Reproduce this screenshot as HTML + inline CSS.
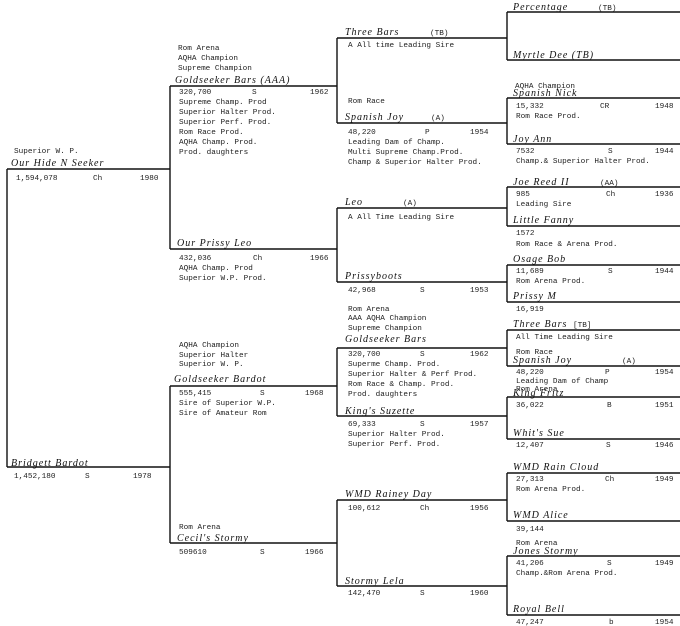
<!DOCTYPE html>
<html><head><meta charset="utf-8"><style>
html,body{margin:0;padding:0;background:#fff;width:680px;height:626px;overflow:hidden}
svg{display:block}
text{font-family:"Liberation Mono",monospace;font-size:7.7px;fill:#222}
.n{font-family:"Liberation Serif",serif;font-style:italic;font-size:10px;letter-spacing:1px;fill:#111}
line{stroke:#111;stroke-width:1.4}
</style></head><body>
<svg width="680" height="626" viewBox="0 0 680 626">
<!-- gen1 -->
<line x1="7" y1="169" x2="170" y2="169"/><line x1="7" y1="467" x2="170" y2="467"/>
<line x1="7" y1="169" x2="7" y2="467"/>
<!-- gen2 -->
<line x1="170" y1="86" x2="170" y2="249"/><line x1="170" y1="86" x2="337" y2="86"/><line x1="170" y1="249" x2="337" y2="249"/>
<line x1="170" y1="386" x2="170" y2="543"/><line x1="170" y1="386" x2="337" y2="386"/><line x1="170" y1="543" x2="337" y2="543"/>
<!-- gen3 -->
<line x1="337" y1="38" x2="337" y2="123"/><line x1="337" y1="38" x2="507" y2="38"/><line x1="337" y1="123" x2="507" y2="123"/>
<line x1="337" y1="208" x2="337" y2="282"/><line x1="337" y1="208" x2="507" y2="208"/><line x1="337" y1="282" x2="507" y2="282"/>
<line x1="337" y1="348" x2="337" y2="416"/><line x1="337" y1="348" x2="507" y2="348"/><line x1="337" y1="416" x2="507" y2="416"/>
<line x1="337" y1="500" x2="337" y2="586"/><line x1="337" y1="500" x2="507" y2="500"/><line x1="337" y1="586" x2="507" y2="586"/>
<!-- gen4 -->
<line x1="507" y1="12" x2="507" y2="60"/><line x1="507" y1="12" x2="680" y2="12"/><line x1="507" y1="60" x2="680" y2="60"/>
<line x1="507" y1="98" x2="507" y2="144"/><line x1="507" y1="98" x2="680" y2="98"/><line x1="507" y1="144" x2="680" y2="144"/>
<line x1="507" y1="187" x2="507" y2="226"/><line x1="507" y1="187" x2="680" y2="187"/><line x1="507" y1="226" x2="680" y2="226"/>
<line x1="507" y1="265" x2="507" y2="302"/><line x1="507" y1="265" x2="680" y2="265"/><line x1="507" y1="302" x2="680" y2="302"/>
<line x1="507" y1="330" x2="507" y2="366"/><line x1="507" y1="330" x2="680" y2="330"/><line x1="507" y1="366" x2="680" y2="366"/>
<line x1="507" y1="397" x2="507" y2="439"/><line x1="507" y1="397" x2="680" y2="397"/><line x1="507" y1="439" x2="680" y2="439"/>
<line x1="507" y1="473" x2="507" y2="521"/><line x1="507" y1="473" x2="680" y2="473"/><line x1="507" y1="521" x2="680" y2="521"/>
<line x1="507" y1="556" x2="507" y2="615"/><line x1="507" y1="556" x2="680" y2="556"/><line x1="507" y1="615" x2="680" y2="615"/>

<!-- gen1 text -->
<text x="14" y="153">Superior W. P.</text>
<text class="n" x="11" y="166">Our Hide N Seeker</text>
<text x="16" y="180">1,594,078</text><text x="93" y="180">Ch</text><text x="140" y="180">1980</text>
<text class="n" x="11" y="466">Bridgett Bardot</text>
<text x="14" y="478">1,452,180</text><text x="85" y="478">S</text><text x="133" y="478">1978</text>

<!-- gen2 text -->
<text x="178" y="50">Rom Arena</text><text x="178" y="60">AQHA Champion</text><text x="178" y="70">Supreme Champion</text>
<text class="n" x="175" y="83">Goldseeker Bars  (AAA)</text>
<text x="179" y="94">320,700</text><text x="252" y="94">S</text><text x="310" y="94">1962</text>
<text x="179" y="104">Supreme Champ. Prod</text><text x="179" y="114">Superior Halter Prod.</text>
<text x="179" y="124">Superior Perf. Prod.</text><text x="179" y="134">Rom Race Prod.</text>
<text x="179" y="144">AQHA Champ. Prod.</text><text x="179" y="154">Prod. daughters</text>
<text class="n" x="177" y="246">Our Prissy Leo</text>
<text x="179" y="260">432,036</text><text x="253" y="260">Ch</text><text x="310" y="260">1966</text>
<text x="179" y="270">AQHA Champ. Prod</text><text x="179" y="280">Superior W.P. Prod.</text>

<text x="179" y="347">AQHA Champion</text><text x="179" y="357">Superior Halter</text><text x="179" y="366">Superior W. P.</text>
<text class="n" x="174" y="382">Goldseeker Bardot</text>
<text x="179" y="395">555,415</text><text x="260" y="395">S</text><text x="305" y="395">1968</text>
<text x="179" y="405">Sire of Superior W.P.</text><text x="179" y="415">Sire of Amateur Rom</text>
<text x="179" y="529">Rom Arena</text>
<text class="n" x="177" y="541">Cecil's Stormy</text>
<text x="179" y="554">509610</text><text x="260" y="554">S</text><text x="305" y="554">1966</text>

<!-- gen3 text -->
<text class="n" x="345" y="35">Three Bars</text><text x="430" y="35">(TB)</text>
<text x="348" y="47">A All time Leading Sire</text>
<text x="348" y="103">Rom Race</text>
<text class="n" x="345" y="120">Spanish Joy</text><text x="431" y="120">(A)</text>
<text x="348" y="134">48,220</text><text x="425" y="134">P</text><text x="470" y="134">1954</text>
<text x="348" y="144">Leading Dam of Champ.</text><text x="348" y="154">Multi Supreme Champ.Prod.</text>
<text x="348" y="164">Champ &amp; Superior Halter Prod.</text>
<text class="n" x="345" y="205">Leo</text><text x="403" y="205">(A)</text>
<text x="348" y="219">A All Time Leading Sire</text>
<text class="n" x="345" y="279">Prissyboots</text>
<text x="348" y="292">42,968</text><text x="420" y="292">S</text><text x="470" y="292">1953</text>

<text x="348" y="311">Rom Arena</text><text x="348" y="320">AAA  AQHA Champion</text><text x="348" y="330">Supreme Champion</text>
<text class="n" x="345" y="342">Goldseeker Bars</text>
<text x="348" y="356">320,700</text><text x="420" y="356">S</text><text x="470" y="356">1962</text>
<text x="348" y="366">Superme Champ. Prod.</text><text x="348" y="376">Superior Halter &amp; Perf Prod.</text>
<text x="348" y="386">Rom Race &amp; Champ. Prod.</text><text x="348" y="396">Prod. daughters</text>
<text class="n" x="345" y="414">King's Suzette</text>
<text x="348" y="426">69,333</text><text x="420" y="426">S</text><text x="470" y="426">1957</text>
<text x="348" y="436">Superior Halter Prod.</text><text x="348" y="446">Superior Perf. Prod.</text>
<text class="n" x="345" y="497">WMD Rainey Day</text>
<text x="348" y="510">100,612</text><text x="420" y="510">Ch</text><text x="470" y="510">1956</text>
<text class="n" x="345" y="584">Stormy Lela</text>
<text x="348" y="595">142,470</text><text x="420" y="595">S</text><text x="470" y="595">1960</text>

<!-- gen4 text -->
<text class="n" x="513" y="10">Percentage</text><text x="598" y="10">(TB)</text>
<text class="n" x="513" y="58">Myrtle Dee (TB)</text>
<text x="515" y="88">AQHA Champion</text>
<text class="n" x="513" y="96">Spanish Nick</text>
<text x="516" y="108">15,332</text><text x="600" y="108">CR</text><text x="655" y="108">1948</text>
<text x="516" y="118">Rom Race Prod.</text>
<text class="n" x="513" y="142">Joy Ann</text>
<text x="516" y="153">7532</text><text x="608" y="153">S</text><text x="655" y="153">1944</text>
<text x="516" y="163">Champ.&amp; Superior Halter Prod.</text>
<text class="n" x="513" y="185">Joe Reed II</text><text x="600" y="185">(AA)</text>
<text x="516" y="196">985</text><text x="606" y="196">Ch</text><text x="655" y="196">1936</text>
<text x="516" y="206">Leading Sire</text>
<text class="n" x="513" y="223">Little Fanny</text>
<text x="516" y="235">1572</text><text x="516" y="246">Rom Race &amp; Arena Prod.</text>
<text class="n" x="513" y="262">Osage Bob</text>
<text x="516" y="273">11,689</text><text x="608" y="273">S</text><text x="655" y="273">1944</text>
<text x="516" y="283">Rom Arena Prod.</text>
<text class="n" x="513" y="299">Prissy M</text>
<text x="516" y="311">16,919</text>
<text class="n" x="513" y="327">Three Bars</text><text x="573" y="327">[TB]</text>
<text x="516" y="339">All Time Leading Sire</text>
<text x="516" y="354">Rom Race</text>
<text class="n" x="513" y="363">Spanish Joy</text><text x="622" y="363">(A)</text>
<text x="516" y="374">48,220</text><text x="605" y="374">P</text><text x="655" y="374">1954</text>
<text x="516" y="383">Leading Dam of Champ</text>
<text x="516" y="391">Rom Arena</text>
<text class="n" x="513" y="396">King Fritz</text>
<text x="516" y="407">36,022</text><text x="607" y="407">B</text><text x="655" y="407">1951</text>
<text class="n" x="513" y="436">Whit's Sue</text>
<text x="516" y="447">12,407</text><text x="606" y="447">S</text><text x="655" y="447">1946</text>
<text class="n" x="513" y="470">WMD Rain Cloud</text>
<text x="516" y="481">27,313</text><text x="605" y="481">Ch</text><text x="655" y="481">1949</text>
<text x="516" y="491">Rom Arena Prod.</text>
<text class="n" x="513" y="518">WMD Alice</text>
<text x="516" y="531">39,144</text>
<text x="516" y="545">Rom Arena</text>
<text class="n" x="513" y="554">Jones Stormy</text>
<text x="516" y="565">41,206</text><text x="607" y="565">S</text><text x="655" y="565">1949</text>
<text x="516" y="575">Champ.&amp;Rom Arena Prod.</text>
<text class="n" x="513" y="612">Royal Bell</text>
<text x="516" y="624">47,247</text><text x="609" y="624">b</text><text x="655" y="624">1954</text>
</svg>
</body></html>
